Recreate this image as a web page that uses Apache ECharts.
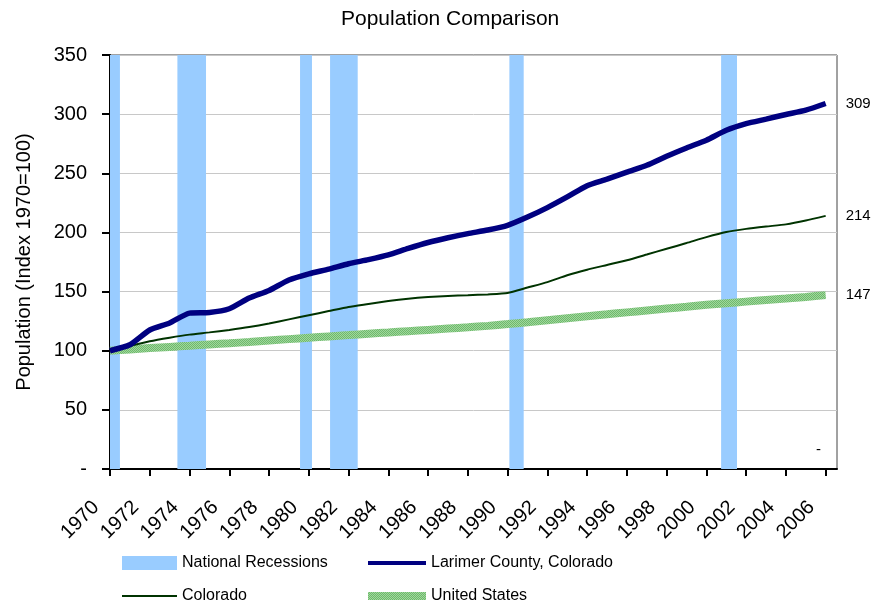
<!DOCTYPE html>
<html>
<head>
<meta charset="utf-8">
<script src="https://cdn.jsdelivr.net/npm/echarts@6/dist/echarts.min.js"></script>
<style>
  html, body { margin: 0; padding: 0; background: #fff; }
  #chart { width: 880px; height: 607px; }
</style>
</head>
<body>
<div id="chart"></div>
<script>
// years and index values (1970 = 100)
var years = [1970, 1971, 1972, 1973, 1974, 1975, 1976, 1977, 1978, 1979,
             1980, 1981, 1982, 1983, 1984, 1985, 1986, 1987, 1988, 1989,
             1990, 1991, 1992, 1993, 1994, 1995, 1996, 1997, 1998, 1999,
             2000, 2001, 2002, 2003, 2004, 2005, 2006];
var larimer = [100, 105, 117.5, 123.5, 131.8, 132.3, 135.5, 144.5, 151, 159.8,
               165, 169, 173.5, 177, 181, 186.5, 191.5, 195.5, 199, 202,
               206, 213, 221, 230, 239.5, 245, 251, 256.8, 264.4, 271.4,
               278, 286.4, 292, 295.8, 299.7, 303.4, 309];
var colorado = [100, 104, 108, 111, 113.6, 115.5, 117.6, 120, 123, 126.5,
                130, 133.5, 137, 139.5, 142, 144, 145.4, 146.3, 146.9, 147.6,
                148.8, 153.4, 158, 163.8, 168.5, 172.5, 176.5, 181.3, 186.2, 191,
                196, 200.3, 203, 205, 206.8, 210, 214];
var us = [100, 101.1, 102.2, 103.2, 104.2, 105.3, 106.3, 107.4, 108.6, 109.8,
          111, 112.1, 113.2, 114.4, 115.4, 116.5, 117.6, 118.7, 119.8, 121,
          122.5, 124.1, 125.8, 127.5, 129.2, 130.8, 132.4, 134, 135.6, 137.2,
          138.8, 140.2, 141.5, 142.8, 144.1, 145.5, 147];
// national recessions, start / end on the year axis
var recStart = [1970.0, 1973.39, 1979.56, 1981.07, 1990.09, 2000.74];
var recEnd   = [1970.5, 1974.83, 1980.16, 1982.46, 1990.81, 2001.54];
var tickYears = [1970, 1972, 1974, 1976, 1978, 1980, 1982, 1984, 1986, 1988,
                 1990, 1992, 1994, 1996, 1998, 2000, 2002, 2004, 2006];

function pairs(vals) {
    return years.map(function (y, i) { return [y, vals[i]]; });
}

// hatched green fill for the United States line
var pat = document.createElement('canvas');
pat.width = 2; pat.height = 2;
var pc = pat.getContext('2d');
pc.fillStyle = '#9fd89c'; pc.fillRect(0, 0, 2, 2);
pc.fillStyle = '#6fb86c'; pc.fillRect(0, 0, 1, 1); pc.fillRect(1, 1, 1, 1);
var usColor = { image: pat, repeat: 'repeat' };

var chart = echarts.init(document.getElementById('chart'));
var fontMain = 'Liberation Sans, Arial, sans-serif';

var endLabel = {
    show: true,
    distance: 20,
    color: '#000',
    fontSize: 15,
    fontFamily: fontMain,
    formatter: function (p) { return Math.round(p.value[1]); }
};
var noDot = { opacity: 0 };

chart.setOption({
    animation: false,
    title: {
        text: 'Population Comparison',
        left: 336,
        top: 4,
        textStyle: { fontFamily: fontMain, fontSize: 21, fontWeight: 'normal', color: '#000' }
    },
    grid: { left: 110, right: 43, top: 55, bottom: 138, show: true, borderColor: '#444', borderWidth: 1 },
    legend: [{
        orient: 'vertical',
        left: 116,
        top: 550,
        height: 80,
        itemWidth: 55,
        itemHeight: 14,
        itemGap: 17,
        data: [{ name: 'National Recessions', icon: 'rect' },
               { name: 'Colorado', itemStyle: noDot, lineStyle: { width: 2 } }],
        textStyle: { fontFamily: fontMain, fontSize: 16, color: '#000' }
    }, {
        orient: 'vertical',
        left: 359,
        top: 550,
        height: 80,
        itemWidth: 58,
        itemHeight: 14,
        itemGap: 17,
        data: [{ name: 'Larimer County, Colorado', itemStyle: noDot, lineStyle: { width: 4 } },
               { name: 'United States', itemStyle: noDot, lineStyle: { width: 8 } }],
        textStyle: { fontFamily: fontMain, fontSize: 16, color: '#000' }
    }],
    xAxis: {
        type: 'value',
        min: 1970,
        max: 2006.57,
        axisLine: { lineStyle: { color: '#000', width: 2 } },
        axisTick: { show: true, customValues: tickYears, length: 7, lineStyle: { color: '#000', width: 2 } },
        axisLabel: {
            customValues: tickYears,
            rotate: 45,
            margin: 21,
            padding: [0, 20, 0, 0],
            fontSize: 20,
            fontFamily: fontMain,
            color: '#000',
            formatter: function (v) { return String(v); }
        },
        splitLine: { show: false }
    },
    yAxis: {
        type: 'value',
        min: 0,
        max: 350,
        interval: 50,
        name: 'Population (Index 1970=100)',
        nameLocation: 'middle',
        nameGap: 76,
        nameTextStyle: { fontFamily: fontMain, fontSize: 20, color: '#000' },
        axisLine: { show: true, lineStyle: { color: '#000', width: 2 } },
        axisTick: { show: true, length: 8, lineStyle: { color: '#000', width: 2 } },
        axisLabel: {
            margin: 23,
            fontSize: 20,
            fontFamily: fontMain,
            color: '#000',
            formatter: function (v) { return v === 0 ? '-' : v; }
        },
        splitLine: { lineStyle: { color: '#c8c8c8', width: 1 } }
    },
    graphic: [{
        type: 'text',
        left: 816,
        top: 442,
        style: { text: '-', fontSize: 15, fontFamily: fontMain, fill: '#000' }
    }],
    series: [{
        name: 'National Recessions',
        type: 'custom',
        color: '#99ccff',
        z: 1,
        data: recStart.map(function (s, i) { return [s, recEnd[i], 350]; }),
        encode: { x: [0, 1], y: 2 },
        renderItem: function (params, api) {
            var p0 = api.coord([api.value(0), api.value(2)]);
            var p1 = api.coord([api.value(1), 0]);
            var rect = echarts.graphic.clipRectByRect(
                { x: p0[0], y: p0[1], width: p1[0] - p0[0], height: p1[1] - p0[1] },
                params.coordSys);
            return rect && { type: 'rect', shape: rect, style: { fill: '#99ccff' } };
        }
    }, {
        name: 'United States',
        type: 'line',
        z: 3,
        smooth: 0.2,
        symbol: 'none',
        color: usColor,
        lineStyle: { color: usColor, width: 8 },
        data: pairs(us),
        endLabel: endLabel
    }, {
        name: 'Colorado',
        type: 'line',
        z: 4,
        smooth: 0.2,
        symbol: 'none',
        color: '#003300',
        lineStyle: { color: '#003300', width: 2 },
        data: pairs(colorado),
        endLabel: endLabel
    }, {
        name: 'Larimer County, Colorado',
        type: 'line',
        z: 5,
        smooth: 0.2,
        symbol: 'none',
        color: '#000080',
        lineStyle: { color: '#000080', width: 5.5 },
        data: pairs(larimer),
        endLabel: endLabel
    }]
});
</script>
</body>
</html>
